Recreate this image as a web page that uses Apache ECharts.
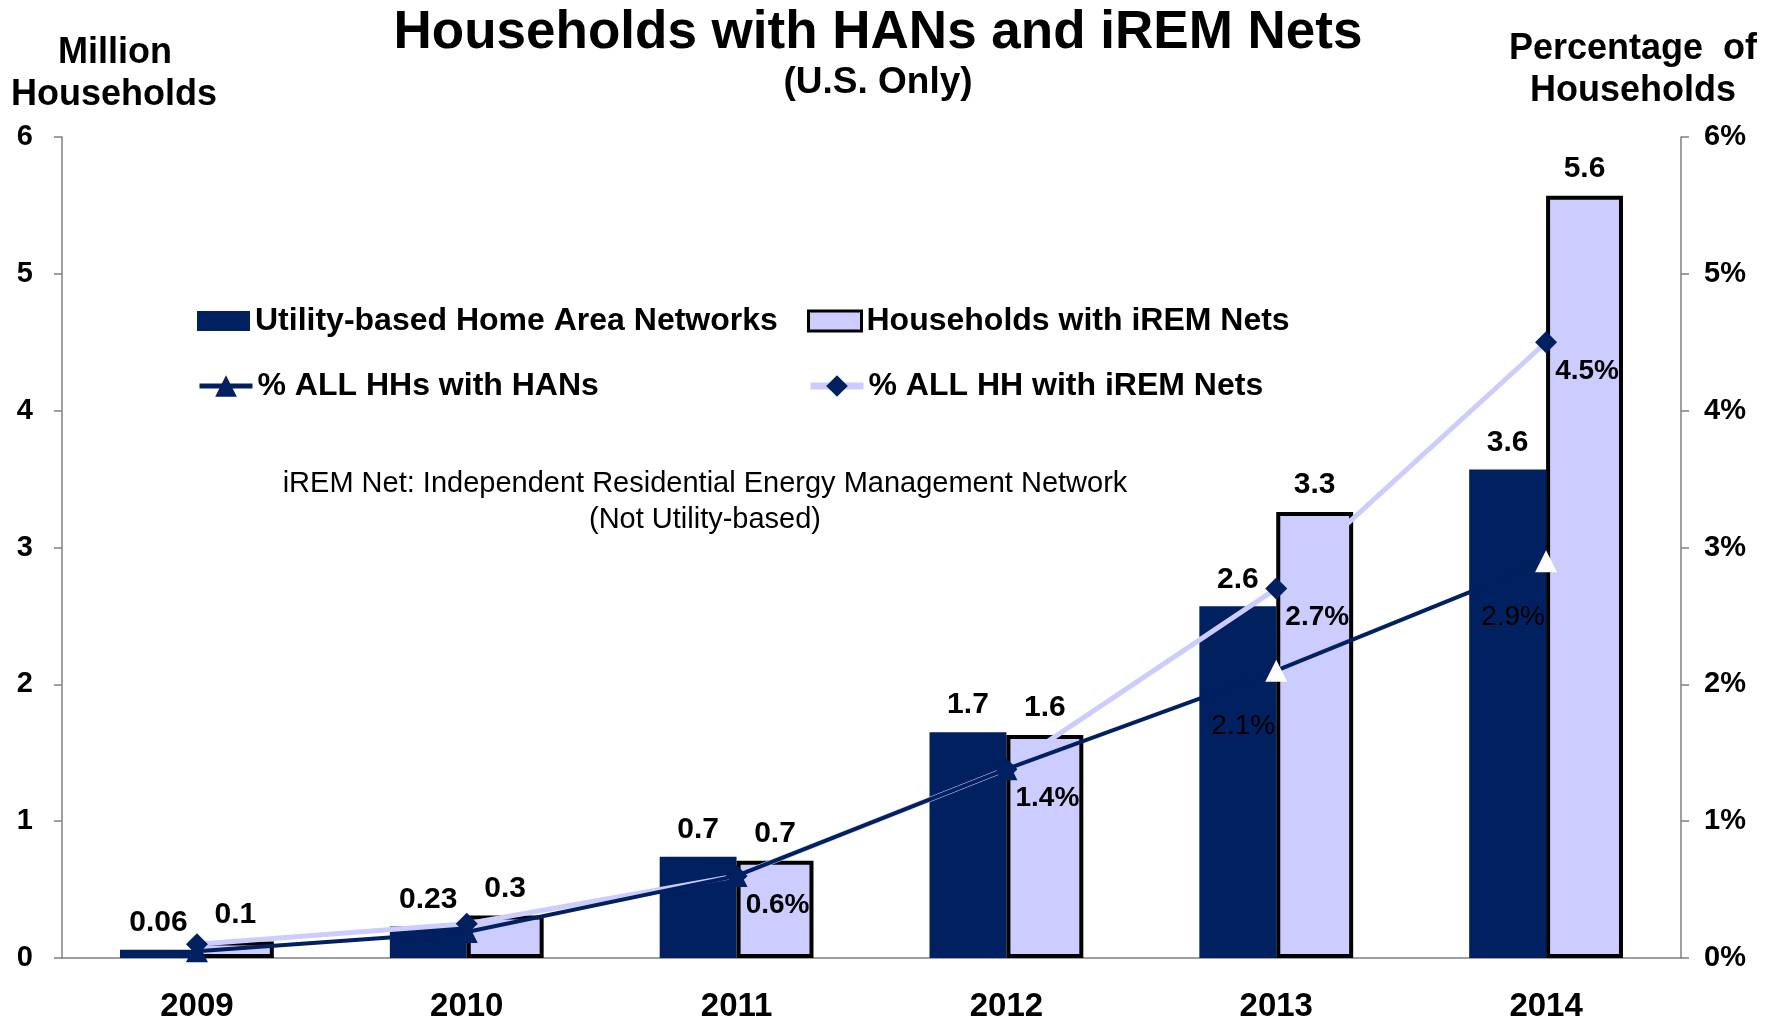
<!DOCTYPE html>
<html><head><meta charset="utf-8">
<script src="https://cdn.jsdelivr.net/npm/echarts@6/dist/echarts.min.js"></script>
<style>html,body{margin:0;padding:0;background:#fff}#c{width:1781px;height:1027px}</style>
</head><body><div id="c"></div>
<script>
const years = ['2009', '2010', '2011', '2012', '2013', '2014'];
const hanHouseholds = [0.06, 0.23, 0.74, 1.65, 2.57, 3.57];
const iremHouseholds = [0.12, 0.31, 0.71, 1.63, 3.26, 5.57];
const hanBarLabels = ['0.06', '0.23', '0.7', '1.7', '2.6', '3.6'];
const iremBarLabels = ['0.1', '0.3', '0.7', '1.6', '3.3', '5.6'];
const hanPct = [0.05, 0.19, 0.6, 1.38, 2.1, 2.9];
const iremPct = [0.1, 0.25, 0.6, 1.38, 2.7, 4.5];
const hanPctLabels = ['', '', '', '', '2.1%', '2.9%'];
const iremPctLabels = ['', '', '0.6%', '1.4%', '2.7%', '4.5%'];

const NAVY = '#002060', LIGHT = '#CCCCFF', GRAY = '#808080';
const FF = '"Liberation Sans", Arial, sans-serif';

const chart = echarts.init(document.getElementById('c'));

const iremLineData = iremPct.map((v, i) => ({ value: v, label: { show: iremPctLabels[i] !== '' } }));
const hanLineData = hanPct.map((v, i) => ({
  value: v,
  label: { show: hanPctLabels[i] !== '' },
  itemStyle: i >= 4 ? { color: '#FFFFFF' } : undefined
}));

const legendText = { fontSize: 32, fontWeight: 'bold', color: '#000', fontFamily: FF, lineHeight: 36 };
function mkLegend(left, top, h, item) {
  return { orient: 'horizontal', left: left, top: top, padding: 0, itemWidth: 53, itemHeight: h,
           textStyle: legendText, data: [item] };
}

chart.setOption({
  animation: false,
  backgroundColor: '#fff',
  textStyle: { fontFamily: FF },
  grid: { left: 62, right: 100, top: 137, bottom: 69 },
  legend: [
    mkLegend(197, 303, 20, { name: 'Utility-based Home Area Networks', icon: 'rect' }),
    mkLegend(807, 303, 20, { name: 'Households with iREM Nets', icon: 'rect', itemStyle: { borderColor: '#000', borderWidth: 3 } }),
    mkLegend(197, 368, 27, { name: '% ALL HHs with HANs', lineStyle: { width: 5 } }),
    mkLegend(807, 368, 27, { name: '% ALL HH with iREM Nets', lineStyle: { width: 7 } })
  ],
  xAxis: {
    type: 'category', data: years,
    axisLine: { lineStyle: { color: GRAY, width: 1.5 } },
    axisTick: { length: 9, lineStyle: { color: GRAY, width: 1.5 } },
    axisLabel: { fontSize: 33, fontWeight: 'bold', color: '#000', margin: 32, fontFamily: FF }
  },
  yAxis: [
    {
      type: 'value', min: 0, max: 6, interval: 1, position: 'left',
      axisLine: { show: true, lineStyle: { color: GRAY, width: 1.5 } },
      axisTick: { show: true, length: 8, lineStyle: { color: GRAY, width: 1.5 } },
      splitLine: { show: false },
      axisLabel: { fontSize: 29, fontWeight: 'bold', color: '#000', margin: 29, fontFamily: FF }
    },
    {
      type: 'value', min: 0, max: 6, interval: 1, position: 'right',
      axisLine: { show: true, lineStyle: { color: GRAY, width: 1.5 } },
      axisTick: { show: true, length: 8, lineStyle: { color: GRAY, width: 1.5 } },
      splitLine: { show: false },
      axisLabel: { fontSize: 29, fontWeight: 'bold', color: '#000', margin: 23, formatter: '{value}%', fontFamily: FF }
    }
  ],
  series: [
    {
      name: 'Utility-based Home Area Networks', type: 'bar', data: hanHouseholds,
      barCategoryGap: '43%', barGap: '0%',
      itemStyle: { color: NAVY },
      label: { show: true, position: 'top', distance: 12, fontSize: 30, fontWeight: 'bold', color: '#000',
               fontFamily: FF, formatter: p => hanBarLabels[p.dataIndex] }
    },
    {
      name: 'Households with iREM Nets', type: 'bar', data: iremHouseholds,
      barCategoryGap: '43%', barGap: '0%',
      itemStyle: { color: LIGHT, borderColor: '#000', borderWidth: 4 },
      label: { show: true, position: 'top', distance: 12, fontSize: 30, fontWeight: 'bold', color: '#000',
               fontFamily: FF, formatter: p => iremBarLabels[p.dataIndex] }
    },
    {
      name: '% ALL HH with iREM Nets', type: 'line', yAxisIndex: 1, data: iremLineData,
      symbol: 'diamond', symbolSize: 22, showAllSymbol: true, z: 3,
      lineStyle: { color: LIGHT, width: 5 },
      itemStyle: { color: NAVY },
      label: { position: 'inside', offset: [41, 29], fontSize: 28, fontWeight: 'bold', color: '#000',
               fontFamily: FF, formatter: p => iremPctLabels[p.dataIndex] }
    },
    {
      name: '% ALL HHs with HANs', type: 'line', yAxisIndex: 1, data: hanLineData,
      symbol: 'triangle', symbolSize: 22, showAllSymbol: true, z: 4,
      lineStyle: { color: NAVY, width: 4 },
      itemStyle: { color: NAVY },
      label: { position: 'inside', offset: [-33, 56], fontSize: 28, fontWeight: 'normal', color: '#000',
               fontFamily: FF, formatter: p => hanPctLabels[p.dataIndex] }
    }
  ],
  graphic: [
    { type: 'text', x: 878, y: 33, style: { text: 'Households with HANs and iREM Nets', font: 'bold 53px ' + FF, fill: '#000', textAlign: 'center', textVerticalAlign: 'middle' } },
    { type: 'text', x: 878, y: 83, style: { text: '(U.S. Only)', font: 'bold 37px ' + FF, fill: '#000', textAlign: 'center', textVerticalAlign: 'middle' } },
    { type: 'text', x: 115, y: 53, style: { text: 'Million', font: 'bold 36px ' + FF, fill: '#000', textAlign: 'center', textVerticalAlign: 'middle' } },
    { type: 'text', x: 114, y: 95, style: { text: 'Households', font: 'bold 36px ' + FF, fill: '#000', textAlign: 'center', textVerticalAlign: 'middle' } },
    { type: 'text', x: 1633, y: 49, style: { text: 'Percentage  of', font: 'bold 36px ' + FF, fill: '#000', textAlign: 'center', textVerticalAlign: 'middle' } },
    { type: 'text', x: 1633, y: 91, style: { text: 'Households', font: 'bold 36px ' + FF, fill: '#000', textAlign: 'center', textVerticalAlign: 'middle' } },
    { type: 'text', x: 705, y: 484, style: { text: 'iREM Net: Independent Residential Energy Management Network', font: '29px ' + FF, fill: '#000', textAlign: 'center', textVerticalAlign: 'middle' } },
    { type: 'text', x: 705, y: 520, style: { text: '(Not Utility-based)', font: '29px ' + FF, fill: '#000', textAlign: 'center', textVerticalAlign: 'middle' } }
  ]
});
</script>
</body></html>
